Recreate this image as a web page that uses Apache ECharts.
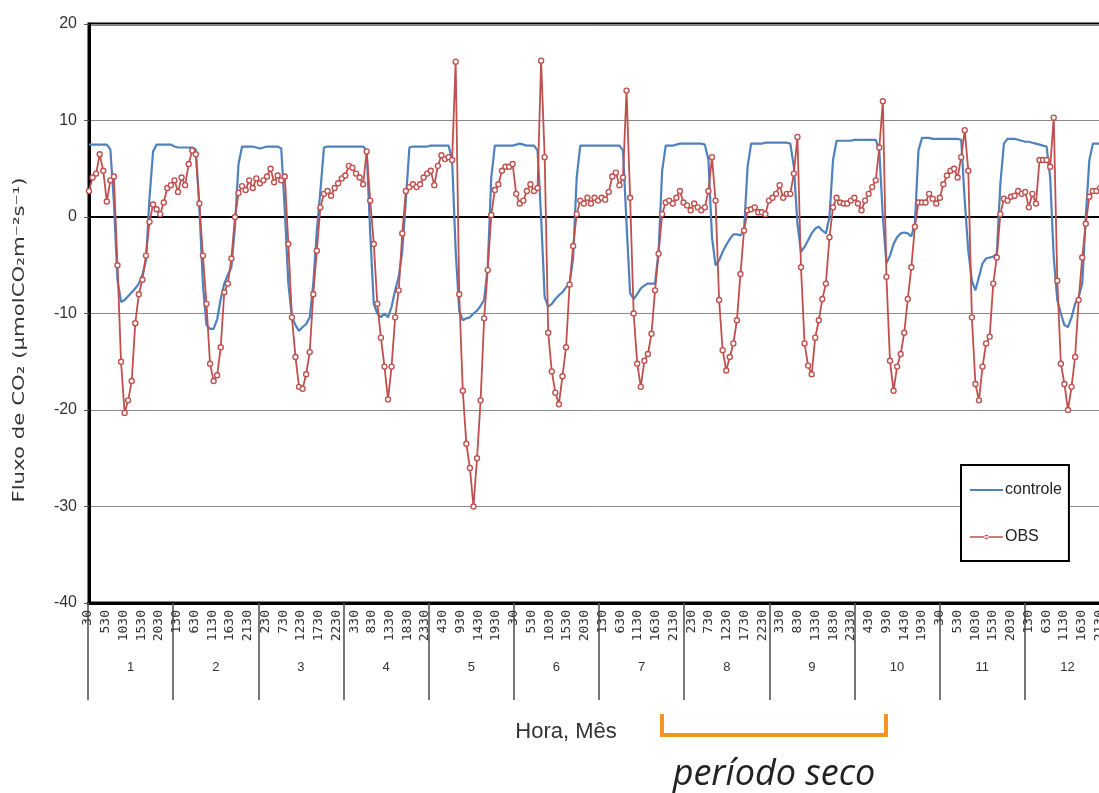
<!DOCTYPE html>
<html>
<head>
<meta charset="utf-8">
<script src="https://cdn.jsdelivr.net/npm/echarts@6/dist/echarts.min.js"></script>
<style>
html,body{margin:0;padding:0;background:#fff;}
#chart{width:1099px;height:793px;}
</style>
</head>
<body>
<div id="chart"></div>
<script>
// ---- DATA ----
const months = ['1','2','3','4','5','6','7','8','9','10','11','12'];
const hourLabels = ['30','130','230','330','430','530','630','730','830','930','1030','1130',
  '1230','1330','1430','1530','1630','1730','1830','1930','2030','2130','2230','2330'];

// controle: 12 months x 24 hours
const controle = [
  7.5,7.5,7.5,7.5,7.5,7.5,7.0,1.5,-6.5,-8.8,-8.6,-8.2,-7.8,-7.4,-6.9,-6.0,-4.5,2.0,6.8,7.5,7.5,7.5,7.5,7.5,
  7.3,7.2,7.2,7.2,7.2,7.2,7.0,1.0,-7.0,-11.2,-11.6,-11.6,-10.6,-8.5,-6.9,-6.0,-5.2,-1.0,5.5,7.3,7.3,7.3,7.3,7.2,
  7.1,7.2,7.3,7.3,7.3,7.3,7.1,0.7,-6.9,-10.4,-11.2,-11.8,-11.4,-11.1,-10.4,-6.9,-1.4,2.7,7.2,7.3,7.3,7.3,7.3,7.3,
  7.3,7.3,7.3,7.3,7.3,7.3,6.9,-1.7,-9.0,-10.0,-10.4,-10.0,-10.4,-9.3,-7.6,-6.2,-3.5,1.7,7.2,7.3,7.3,7.3,7.3,7.3,
  7.4,7.4,7.4,7.4,7.4,7.4,5.9,-3.5,-9.7,-10.7,-10.5,-10.4,-10.0,-9.7,-9.2,-8.6,-5.2,4.1,7.4,7.4,7.4,7.4,7.4,7.4,
  7.5,7.6,7.5,7.4,7.4,7.4,6.9,0.0,-8.3,-9.3,-9.0,-8.5,-8.1,-7.8,-7.3,-6.9,-4.2,4.1,7.4,7.4,7.4,7.4,7.4,7.4,
  7.4,7.4,7.4,7.4,7.4,7.4,6.9,-0.7,-7.9,-8.5,-8.0,-7.4,-7.1,-6.9,-6.9,-6.9,-3.5,4.8,7.4,7.4,7.4,7.5,7.6,7.6,
  7.6,7.6,7.6,7.6,7.6,7.5,5.9,-2.1,-5.0,-4.5,-3.6,-2.9,-2.3,-1.8,-1.8,-1.9,-1.4,5.2,7.6,7.6,7.6,7.6,7.7,7.7,
  7.7,7.7,7.7,7.7,7.7,7.6,5.2,-0.7,-3.6,-3.1,-2.4,-1.7,-1.2,-1.0,-1.4,-1.7,0.0,5.9,7.9,7.9,7.9,7.9,7.9,8.0,
  8.0,8.0,8.0,8.0,8.0,8.0,6.9,0.0,-4.8,-4.0,-2.8,-2.1,-1.7,-1.6,-1.7,-2.0,-0.7,6.9,8.2,8.2,8.2,8.1,8.1,8.1,
  8.1,8.1,8.1,8.1,8.1,8.0,1.7,-3.5,-6.6,-7.6,-6.2,-4.8,-4.3,-4.2,-4.1,-3.8,3.4,7.6,8.1,8.1,8.1,8.0,7.9,7.8,
  7.8,7.7,7.6,7.5,7.4,7.3,4.1,-4.2,-8.6,-10.0,-11.2,-11.4,-10.4,-9.0,-8.3,-6.9,0.0,5.9,7.6,7.6,7.6,7.6,7.6,7.6
];

// OBS: 12 months x 24 hours
const obs = [
  2.7,4.1,4.5,6.5,4.8,1.6,3.8,4.2,-5.0,-15.0,-20.3,-19.0,-17.0,-11.0,-8.0,-6.5,-4.0,-0.5,1.3,0.8,0.3,1.5,3.0,3.3,
  3.8,2.6,4.1,3.3,5.5,6.9,6.5,1.4,-4.0,-9.0,-15.2,-17.0,-16.4,-13.5,-7.8,-6.9,-4.3,0.0,2.5,3.2,2.8,3.8,3.0,4.0,
  3.5,3.8,4.2,5.0,3.6,4.3,3.8,4.2,-2.8,-10.4,-14.5,-17.6,-17.8,-16.3,-14.0,-8.0,-3.5,1.0,2.4,2.7,2.2,3.0,3.5,4.0,
  4.3,5.3,5.1,4.5,4.1,3.4,6.8,1.7,-2.8,-9.0,-12.5,-15.5,-18.9,-15.5,-10.4,-7.6,-1.7,2.7,3.1,3.4,3.1,3.4,4.1,4.5,
  4.8,3.3,5.3,6.4,6.0,6.2,5.9,16.1,-8.0,-18.0,-23.5,-26.0,-30.0,-25.0,-19.0,-10.5,-5.5,0.2,2.8,3.4,4.8,5.2,5.2,5.5,
  2.4,1.4,1.7,2.7,3.4,2.7,3.0,16.2,6.2,-12.0,-16.0,-18.2,-19.4,-16.5,-13.5,-7.0,-3.0,0.3,1.7,1.4,2.0,1.4,2.0,1.7,
  2.0,1.8,2.6,4.2,4.6,3.3,4.1,13.1,2.0,-10.0,-15.2,-17.6,-14.9,-14.2,-12.1,-7.6,-3.8,0.3,1.5,1.7,1.4,2.0,2.7,1.5,
  1.2,0.7,1.4,1.0,0.7,1.0,2.7,6.2,1.7,-8.6,-13.8,-15.9,-14.5,-13.1,-10.7,-5.9,-1.4,0.7,0.8,1.0,0.5,0.5,0.3,1.7,
  2.0,2.4,3.3,2.0,2.4,2.4,4.5,8.3,-5.2,-13.1,-15.4,-16.3,-12.5,-10.7,-8.5,-6.9,-2.1,1.0,2.0,1.5,1.4,1.4,1.7,2.0,
  1.4,0.7,1.7,2.4,3.1,3.8,7.2,12.0,-6.2,-14.9,-18.0,-15.5,-14.2,-12.0,-8.5,-5.2,-1.0,1.5,1.5,1.5,2.4,1.9,1.4,2.0,
  3.4,4.3,4.8,5.0,4.1,6.2,9.0,4.8,-10.4,-17.3,-19.0,-15.5,-13.1,-12.4,-6.9,-4.2,0.3,1.9,1.7,2.1,2.2,2.7,2.4,2.6,
  1.0,2.4,1.4,5.9,5.9,5.9,5.2,10.3,-6.6,-15.2,-17.3,-20.0,-17.6,-14.5,-8.6,-4.2,-0.7,2.1,2.7,2.7,3.0,2.8,3.2,3.5
];

// category axis built from months x hourLabels (plus closing tick)
const categories = [];
months.forEach(() => hourLabels.forEach(h => categories.push(h)));
const labelCats = categories.concat([hourLabels[0]]);

const SANS = "'Liberation Sans',Arial,sans-serif";
const BLUE = '#4F81BD', RED = '#C0504D';

const chart = echarts.init(document.getElementById('chart'), null, {renderer: 'canvas'});
chart.setOption({
  animation: false,
  backgroundColor: '#fff',
  grid: [
    {left: 89, top: 24, width: 1021.7, height: 579, show: true, borderColor: '#000', borderWidth: 3,
      backgroundColor: 'transparent', outerBoundsMode: 'none', containLabel: false},
    {left: 88, top: 24, width: 1022, height: 579, show: false, outerBoundsMode: 'none', containLabel: false}
  ],
  legend: {
    data: [
      {name: 'controle', icon: 'path://M0,0 L0.01,0 M0,4.1 L33,4.1 L33,5.9 L0,5.9 Z M0,10 L0.01,10'},
      {name: 'OBS', icon: 'path://M0,0 L0.01,0 M0,4.2 L33,4.2 L33,5.8 L0,5.8 Z M14.3,5 A2.2,2.2 0 1 0 18.7,5 A2.2,2.2 0 1 0 14.3,5 Z M0,10 L0.01,10',
        itemStyle: {color: RED, borderWidth: 0}}
    ],
    orient: 'vertical',
    left: 961, top: 465,
    itemWidth: 33, itemHeight: 10,
    itemGap: 31,
    padding: [17, 7, 16, 9],
    borderColor: '#000', borderWidth: 2,
    backgroundColor: '#fff',
    textStyle: {fontSize: 16, fontFamily: SANS, color: '#222', padding: [0,0,0,-3]}
  },
  xAxis: [
    {
      gridIndex: 0, type: 'category', data: categories, boundaryGap: false,
      axisLine: {show: true, onZero: true, lineStyle: {color: '#000', width: 2}},
      axisTick: {show: false}, axisLabel: {show: false}, splitLine: {show: false}
    },
    {
      gridIndex: 1, type: 'category', data: labelCats, boundaryGap: false, position: 'bottom',
      axisLine: {show: true, onZero: false, lineStyle: {color: '#000', width: 3}},
      axisTick: {show: false},
      axisLabel: {interval: 4, rotate: 90, fontSize: 13, margin: 7, color: '#333',
        fontFamily: "'DejaVu Sans Mono', monospace"},
      splitLine: {show: false}
    },
    {
      gridIndex: 1, type: 'category', data: months, boundaryGap: true, position: 'bottom',
      axisLine: {show: false, onZero: false},
      axisTick: {show: true, interval: 0, length: 97, lineStyle: {color: '#555', width: 1.6}},
      axisLabel: {interval: 0, margin: 58, fontSize: 13, color: '#333', fontFamily: SANS},
      splitLine: {show: false}
    }
  ],
  yAxis: [
    {
      gridIndex: 0, type: 'value', min: -40, max: 20, interval: 10,
      axisLine: {show: true, lineStyle: {color: '#000', width: 3}},
      axisTick: {show: true, length: 5, lineStyle: {color: '#555', width: 1}},
      axisLabel: {fontSize: 16, margin: 12, color: '#333', fontFamily: SANS},
      splitLine: {show: true, lineStyle: {color: '#8a8a8a', width: 1}}
    },
    {gridIndex: 1, type: 'value', min: -40, max: 20, show: false}
  ],
  series: [
    {
      name: 'controle', type: 'line', xAxisIndex: 0, yAxisIndex: 0,
      data: controle, symbol: 'none', showSymbol: false,
      lineStyle: {color: BLUE, width: 2.2},
      itemStyle: {color: BLUE}, z: 3
    },
    {
      name: 'OBS', type: 'line', xAxisIndex: 0, yAxisIndex: 0,
      data: obs, symbol: 'circle', symbolSize: 5, showSymbol: true, showAllSymbol: true,
      lineStyle: {color: RED, width: 1.8},
      itemStyle: {color: '#fff', borderColor: RED, borderWidth: 1.4}, z: 4
    }
  ],
  graphic: [
    {type: 'text', x: 20, y: 340, rotation: Math.PI / 2, scaleX: 1.42,
      style: {text: 'Fluxo de CO₂ (µmolCO₂m⁻²s⁻¹)', fill: '#333', fontSize: 15,
        fontFamily: "'DejaVu Sans', sans-serif", align: 'center', verticalAlign: 'middle'}},
    {type: 'text', x: 566, y: 732,
      style: {text: 'Hora, Mês', fill: '#333', fontSize: 22, fontFamily: SANS,
        align: 'center', verticalAlign: 'middle'}},
    {type: 'polyline', shape: {points: [[662, 714], [662, 735], [886, 735], [886, 714]]},
      style: {stroke: '#F7941D', lineWidth: 4, fill: null}},
    {type: 'text', x: 774, y: 775,
      style: {text: 'período seco', fill: '#222', fontSize: 36, fontStyle: 'italic',
        fontFamily: "'Open Sans', sans-serif", align: 'center', verticalAlign: 'middle'}}
  ]
});
</script>
</body>
</html>
